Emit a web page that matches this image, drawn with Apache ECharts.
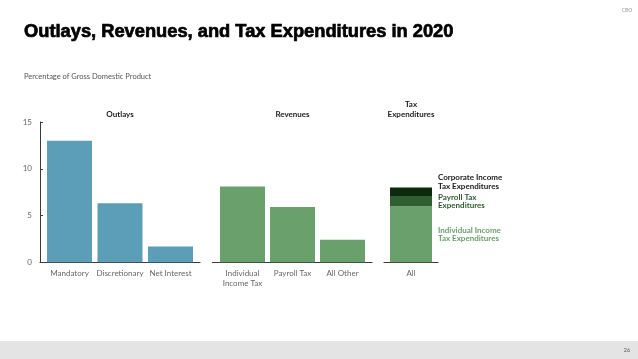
<!DOCTYPE html>
<html>
<head>
<meta charset="utf-8">
<script src="https://cdn.jsdelivr.net/npm/echarts@6/dist/echarts.min.js"></script>
<style>
html,body{margin:0;padding:0;background:#fff;}
#chart{width:638px;height:359px;}
</style>
</head>
<body>
<div id="chart"></div>
<script>
const outlayCats = ['Mandatory', 'Discretionary', 'Net Interest'];
const outlayVals = [13.0, 6.3, 1.7];
const revenueCats = ['Individual\nIncome Tax', 'Payroll Tax', 'All Other'];
const revenueVals = [8.1, 5.9, 2.4];
const taxExpCats = ['All'];
const taxExpIndividual = [6.0];
const taxExpPayroll = [1.0];
const taxExpCorporate = [1.0];
const taxExpNames = ['Individual Income\nTax Expenditures', 'Payroll Tax\nExpenditures', 'Corporate Income\nTax Expenditures'];
const yTicks = [0, 5, 10, 15];

const FONT = 'Lato, "Open Sans", sans-serif';
const chart = echarts.init(document.getElementById('chart'), null, {renderer: 'canvas'});

const axisLabelStyle = {color: '#666', fontSize: 8, fontFamily: FONT, margin: 6, lineHeight: 10};
function xAxisFor(cats, gridIndex, min, max) {
  return {
    type: 'value', gridIndex: gridIndex, min: min, max: max,
    axisLine: {show: true, onZero: false, lineStyle: {color: '#3a3a3a', width: 1.2}},
    axisTick: {show: false},
    splitLine: {show: false},
    axisLabel: Object.assign({
      customValues: cats.map((c, i) => i),
      formatter: v => cats[Math.round(v)] || ''
    }, axisLabelStyle)
  };
}
function yAxisFor(gridIndex, show) {
  return {
    type: 'value', gridIndex: gridIndex, min: yTicks[0], max: yTicks[yTicks.length - 1], interval: 5,
    show: show,
    axisLine: {show: true, onZero: false, lineStyle: {color: '#3a3a3a', width: 1}},
    axisTick: {show: true, inside: true, length: 3, lineStyle: {color: '#3a3a3a'}},
    splitLine: {show: false},
    axisLabel: {color: '#666', fontSize: 8, fontFamily: FONT, margin: 8}
  };
}
const pts = arr => arr.map((v, i) => [i, v]);
function teLabel(name, color, offset) {
  return {show: true, position: 'right', distance: 6, offset: offset, formatter: name, color: color,
          fontSize: 8, fontWeight: 'bold', fontFamily: FONT, lineHeight: 8.5, align: 'left'};
}

const option = {
  backgroundColor: '#ffffff',
  animation: false,
  grid: [
    {left: 40, top: 122, width: 160, height: 140.3},
    {left: 212.5, top: 122, width: 159.5, height: 140.3},
    {left: 384, top: 122, width: 54, height: 140.3}
  ],
  xAxis: [
    xAxisFor(outlayCats, 0, -0.584, 2.584),
    xAxisFor(revenueCats, 1, -0.6, 2.59),
    {type: 'category', gridIndex: 2, data: taxExpCats,
     axisLine: {show: true, onZero: false, lineStyle: {color: '#3a3a3a', width: 1.2}},
     axisTick: {show: false}, splitLine: {show: false}, axisLabel: axisLabelStyle}
  ],
  yAxis: [yAxisFor(0, true), yAxisFor(1, false), yAxisFor(2, false)],
  series: [
    {type: 'bar', name: 'Outlays', xAxisIndex: 0, yAxisIndex: 0, barWidth: 45,
     itemStyle: {color: '#5c9db8'}, data: pts(outlayVals)},
    {type: 'bar', name: 'Revenues', xAxisIndex: 1, yAxisIndex: 1, barWidth: 45,
     itemStyle: {color: '#6aa06b'}, data: pts(revenueVals)},
    {type: 'bar', name: taxExpNames[0], xAxisIndex: 2, yAxisIndex: 2, barWidth: 42, stack: 'te',
     itemStyle: {color: '#6aa06b'}, data: taxExpIndividual,
     label: teLabel(taxExpNames[0], '#6aa06b', [0, 0])},
    {type: 'bar', name: taxExpNames[1], xAxisIndex: 2, yAxisIndex: 2, barWidth: 42, stack: 'te',
     itemStyle: {color: '#2f5e31'}, data: taxExpPayroll,
     label: teLabel(taxExpNames[1], '#2c5a2e', [0, 0])},
    {type: 'bar', name: taxExpNames[2], xAxisIndex: 2, yAxisIndex: 2, barWidth: 42, stack: 'te',
     itemStyle: {color: '#0a2a0b'}, data: taxExpCorporate,
     label: teLabel(taxExpNames[2], '#1a1a1a', [0, -10])}
  ],
  graphic: [
    {type: 'rect', left: 0, top: 341, shape: {width: 638, height: 18}, style: {fill: '#e4e4e4'}, silent: true},
    {type: 'text', x: 24, y: 32, style: {text: 'Outlays, Revenues, and Tax Expenditures in 2020',
      fontSize: 18.3, fontWeight: 'bold', fontFamily: '"Liberation Sans", Arial, sans-serif', fill: '#000',
      stroke: '#000', lineWidth: 0.7, verticalAlign: 'middle', align: 'left'}},
    {type: 'text', x: 24, y: 77, style: {text: 'Percentage of Gross Domestic Product',
      fontSize: 7.5, fontFamily: FONT, fill: '#555', verticalAlign: 'middle', align: 'left'}},
    {type: 'text', x: 627, y: 10, style: {text: 'CBO', fontSize: 5, fontFamily: FONT, fill: '#999',
      verticalAlign: 'middle', align: 'center'}},
    {type: 'text', x: 627, y: 350, style: {text: '26', fontSize: 5.5, fontFamily: FONT, fill: '#555',
      verticalAlign: 'middle', align: 'center'}},
    {type: 'text', x: 120, y: 114, style: {text: 'Outlays', fontSize: 8, fontWeight: 'bold', fontFamily: FONT,
      fill: '#222', verticalAlign: 'middle', align: 'center'}},
    {type: 'text', x: 292.5, y: 114, style: {text: 'Revenues', fontSize: 8, fontWeight: 'bold', fontFamily: FONT,
      fill: '#222', verticalAlign: 'middle', align: 'center'}},
    {type: 'text', x: 411, y: 109, style: {text: 'Tax\nExpenditures', fontSize: 8, fontWeight: 'bold', fontFamily: FONT,
      fill: '#222', verticalAlign: 'middle', align: 'center', lineHeight: 10}}
  ]
};
chart.setOption(option);
</script>
</body>
</html>
